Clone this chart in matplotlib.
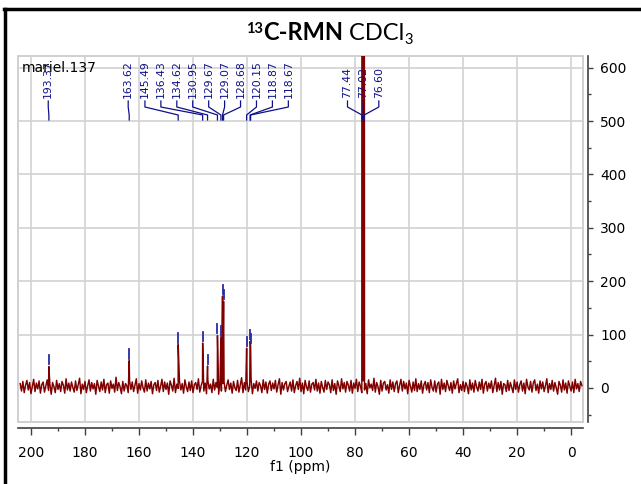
import numpy as np
import matplotlib
matplotlib.use("Agg")
import matplotlib.pyplot as plt
import matplotlib.transforms as mtransforms
from matplotlib.lines import Line2D
from matplotlib.patches import Rectangle
from matplotlib.ticker import MultipleLocator

# --- picked peaks (ppm) and their intensities ---
peak_ppm = [193.37, 163.62, 145.49, 136.43, 134.62, 130.95, 129.67,
            129.07, 128.68, 120.15, 118.87, 118.67, 77.44, 77.02, 76.60]
peak_height = [40, 51, 81, 84, 41, 98, 94,
               172, 162, 74, 87, 80, 1400, 1500, 1400]

# --- baseline noise, sampled every 0.5 ppm from 204 to -4 ppm ---
ppm_first, ppm_last = 204.0, -4.0
noise = [
    8, -6, 12, -9, 5, 14, -4, 10, -11, 3, 16, -7, 9, -2, 13, -10, 6, 11, -8, 4,
    15, -5, 7, -12, 10, 2, -9, 14, -3, 8, -7, 12, 5, -10, 17, -4, 9, -6, 11, 1,
    -8, 13, -5, 6, 18, -11, 7, -3, 12, -9, 4, 15, -6, 10, -2, 8, -12, 14, 3, -7,
    11, -4, 16, -9, 6, 9, -10, 13, -1, 7, -8, 20, -5, 10, 2, -11, 12, -6, 8, 4,
    -9, 14, -3, 11, -7, 5, 17, -10, 8, -4, 13, 0, -8, 15, -6, 9, -2, 12, -11, 6,
    10, -5, 14, -8, 3, 16, -7, 11, -3, 9, -12, 13, 5, -6, 18, -9, 7, -1, 12, -4,
    8, -10, 15, 2, -7, 11, -5, 13, -9, 6, 10, -3, 17, -8, 4, 12, -6, 9, -11, 14,
    -2, 7, -9, 16, -4, 10, 1, -12, 13, -6, 8, 11, -7, 5, 15, -3, 9, -10, 12, 0,
    -5, 14, -8, 6, 19, -9, 10, -4, 12, -7, 3, 16, -11, 8, -1, 13, -6, 10, 4, -9,
    15, -3, 11, -10, 7, 13, -5, 9, -2, 14, -8, 6, 17, -12, 10, -4, 8, 12, -7, 3,
    11, -6, 15, -9, 4, 12, -3, 18, -7, 9, -11, 14, 2, -5, 13, -8, 7, 10, -4, 16,
    -6, 9, -10, 12, 1, -8, 14, -3, 11, 6, -9, 15, -5, 8, -12, 13, 4, -7, 17, -2,
    10, -8, 12, 5, -6, 14, -10, 9, -1, 16, -7, 11, 3, -9, 13, -4, 8, -11, 15, 0,
    7, -5, 18, -8, 10, 2, -12, 14, -6, 9, 12, -4, 6, -10, 15, -3, 11, -7, 8, 13,
    -9, 5, 16, -6, 12, -2, 9, -11, 14, 3, -8, 11, -5, 17, -7, 8, -3, 13, -10, 6,
    12, -4, 10, -9, 15, 1, -6, 13, -8, 7, 11, -12, 16, -3, 9, -7, 14, 4, -5, 10,
    -10, 13, -2, 8, 17, -9, 6, -5, 12, -7, 10, 3, -11, 15, -4, 9, -8, 14, 2, -6,
    11, -3, 16, -10, 7, 12, -6, 9, -1, 13, -9, 5, 18, -7, 10, -4, 12, -12, 8, 6,
    -7, 14, -5, 10, 1, -9, 15, -3, 11, -8, 6, 13, -6, 9, -11, 16, 2, -4, 12, -8,
    9, 15, -5, 7, -10, 13, -2, 11, -7, 4, 17, -9, 8, -3, 14, -6, 10, 0, -12, 12,
    5, -8, 15, -4, 9, -10, 13, 3, -6, 11, -9, 16, -2, 8, -7, 12, 4,
]

x_ticks = [200, 180, 160, 140, 120, 100, 80, 60, 40, 20, 0]
y_ticks = [0, 100, 200, 300, 400, 500, 600]
sample_name = "mariel.137"

# horizontal positions (ppm) where the rotated peak labels are written
label_x = [193.6, 164.0, 157.8, 151.9, 146.0, 140.1, 134.2,
           128.3, 122.4, 116.5, 110.6, 104.7, 82.8, 77.0, 71.2]

# ---------------------------------------------------------------
W, H = 641, 484
fig = plt.figure(figsize=(W / 100, H / 100), dpi=100)
plt.rcParams["font.family"] = ["DejaVu Sans"]

left_px, right_px, top_px, bottom_px = 18, 583, 56, 422
ax = fig.add_axes([left_px / W, 1 - bottom_px / H,
                   (right_px - left_px) / W, (bottom_px - top_px) / H])

# assemble the spectrum: noise grid plus the peak apexes
grid = np.linspace(ppm_first, ppm_last, len(noise))
xs = np.concatenate([grid, np.array(peak_ppm)])
ys = np.concatenate([np.array(noise, float), np.array(peak_height, float)])
order = np.argsort(-xs)
ax.plot(xs[order], ys[order], color="#800000", lw=1.05, zorder=3)

ax.set_xlim(204.8, -4.4)
ax.set_ylim(-64, 622)

# blue peak-pick markers above each apex
for p, h in zip(peak_ppm, peak_height):
    ax.plot([p, p], [h + 4, h + 21], color="#2a2aa0", lw=1.3, zorder=4)

# peak labels with bracket connectors
trans = mtransforms.blended_transform_factory(ax.transData, ax.transAxes)
def fy(px):
    return (bottom_px - px) / (bottom_px - top_px)

for p, lx in zip(peak_ppm, label_x):
    ax.text(lx, fy(98), f"{p:.2f}", rotation=90, ha="center", va="bottom",
            fontsize=7.8, color="#10108a", transform=trans, zorder=5)
    ax.plot([lx, lx, p, p], [fy(101), fy(107), fy(115), fy(120)],
            color="#10108a", lw=0.9, transform=trans, zorder=5)

ax.text(0.007, fy(68), sample_name, transform=ax.transAxes, fontsize=10,
        va="center", ha="left", color="black", zorder=6)

# grid and light frame
ax.set_xticks(x_ticks)
ax.set_yticks(y_ticks)
ax.xaxis.set_minor_locator(MultipleLocator(10))
ax.yaxis.set_minor_locator(MultipleLocator(50))
ax.grid(True, which="major", color="#d2d2d2", lw=1.2, zorder=0)
ax.add_patch(Rectangle((0, 0), 1, 1, transform=ax.transAxes, fill=False,
                       ec="#c8c8c8", lw=1.2, clip_on=False, zorder=1))

for s in ("top", "left"):
    ax.spines[s].set_visible(False)
ax.spines["bottom"].set_position(("outward", 4.5))
ax.spines["right"].set_position(("outward", 3.8))
for s in ("bottom", "right"):
    ax.spines[s].set_color("#404040")
    ax.spines[s].set_linewidth(1.2)

ax.yaxis.tick_right()
ax.tick_params(axis="x", which="major", direction="out", length=5, width=1,
               color="#404040", labelsize=10, pad=8)
ax.tick_params(axis="x", which="minor", direction="out", length=2.5, width=1,
               color="#404040")
ax.tick_params(axis="y", which="major", direction="out", length=3.6, width=1,
               color="#404040", labelsize=10, pad=5, left=False, right=True)
ax.tick_params(axis="y", which="minor", direction="out", length=2.4, width=1,
               color="#404040", left=False, right=True)
ax.set_xlabel("f1 (ppm)", fontsize=10, labelpad=0)

# page border lines
fig.add_artist(Line2D([5 / W, 5 / W], [0, 1 - 9 / H], transform=fig.transFigure,
                      color="black", lw=2.5))
fig.add_artist(Line2D([4 / W, 1], [1 - 9 / H, 1 - 9 / H], transform=fig.transFigure,
                      color="black", lw=2.5))

# title: superscript mass number, bold nucleus/technique, solvent with subscript
renderer = fig.canvas.get_renderer()
title_parts = [("13", "bold", 10.5, 7), ("C-RMN", "bold", 17, 0),
               (" CDCl", "normal", 17, 0), ("3", "normal", 10.5, -4)]
x_cur = 246
base_px = 40
for txt, weight, size, dy in title_parts:
    t = fig.text(x_cur / W, 1 - (base_px - dy) / H, txt, fontsize=size,
                 fontweight=weight, family=["Lato", "DejaVu Sans"],
                 ha="left", va="baseline", color="black")
    x_cur += t.get_window_extent(renderer).width

fig.savefig("out.png", dpi=100)
